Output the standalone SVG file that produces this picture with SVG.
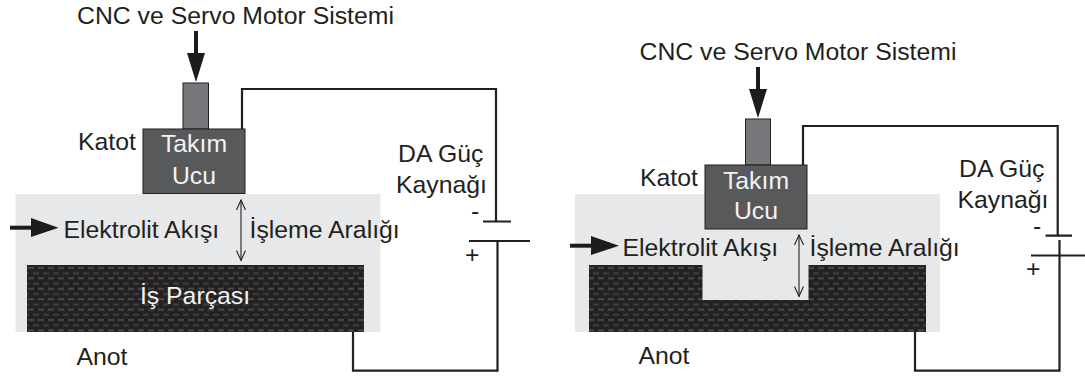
<svg xmlns="http://www.w3.org/2000/svg" width="1085" height="378" viewBox="0 0 1085 378">
<defs>
<pattern id="tex" width="10" height="10.4" patternUnits="userSpaceOnUse" patternTransform="translate(27 265)">
<rect width="10" height="10.4" fill="#232122"/>
<rect x="1" y="2" width="6" height="2" fill="#4a484a"/>
<rect x="6" y="7.2" width="6" height="2" fill="#403e40"/>
<rect x="-4" y="7.2" width="6" height="2" fill="#403e40"/>
</pattern>
<marker id="open" viewBox="0 0 12 10" markerWidth="12" markerHeight="10" refX="11" refY="5" orient="auto-start-reverse" markerUnits="userSpaceOnUse"><path d="M1 .5L11 5L1 9.5" fill="none" stroke="#231f20" stroke-width="1.1"/></marker>
</defs>
<style>
text{font-family:"Liberation Sans",Arial,sans-serif;font-size:24.800px;fill:#231f20}
.w{fill:#f2f2f2;text-anchor:middle}
.wire{fill:none;stroke:#231f20;stroke-width:2.200}
.thin{fill:none;stroke:#231f20;stroke-width:1.1;marker-start:url(#open);marker-end:url(#open)}
.bar{fill:none;stroke:#1d1b1c;stroke-width:4}
.head{fill:#1d1b1c}
.fluid{fill:#e7e8ea}
.work{fill:url(#tex)}
.stem{fill:#77787b;stroke:#231f20;stroke-width:1}
.tool{fill:#58595b;stroke:#231f20;stroke-width:1}
</style>
<g id="left-fluid"><rect class="fluid" x="15.500" y="194" width="365" height="138"/></g>
<g id="left-workpiece"><rect class="work" x="27" y="265" width="337" height="67"/><text class="w" x="195" y="304">İş Parçası</text></g>
<g id="left-tool"><rect class="stem" x="183" y="83" width="25.500" height="46"/><rect class="tool" x="143" y="129" width="102" height="64.500"/><text class="w" x="194" y="152">Takım</text><text class="w" x="194" y="184">Ucu</text></g>
<g id="right-fluid"><rect class="fluid" x="575" y="194" width="365" height="138"/></g>
<g id="right-workpiece"><path class="work" d="M589 265H702.500V300H808.500V265H926V332H589Z"/></g>
<g id="right-tool"><rect class="stem" x="745.500" y="119" width="25" height="46"/><rect class="tool" x="705" y="165" width="102" height="64"/><text class="w" x="756" y="189">Takım</text><text class="w" x="756" y="219">Ucu</text></g>
<g id="connectors">
<path class="wire" d="M242 129V89H496V221.500"/>
<path class="wire" d="M483 221.500H511M469 241H530M497.500 241V370.700H353V332"/>
<path class="bar" d="M196 31V55"/><path class="head" d="M187 53H205L196 82Z"/>
<path class="bar" d="M10 227.700H33"/><path class="head" d="M31 218L58.500 227.700L31 237Z"/>
<path class="thin" d="M241 200V260.500"/>
<path class="wire" d="M803 165V126H1057.700V235.700"/>
<path class="wire" d="M1045.500 235.700H1072M1031 255.500H1085M1059.500 240V370.700H915V332"/>
<path class="bar" d="M758 67V91"/><path class="head" d="M749 89H767L758 118Z"/>
<path class="bar" d="M570 245.700H593"/><path class="head" d="M591 236L619 245.700L591 255Z"/>
<path class="thin" d="M799 235V296.500"/>
</g>
<g id="labels">
<text x="77" y="24">CNC ve Servo Motor Sistemi</text>
<text x="78" y="150">Katot</text>
<text x="398" y="162">DA Güç</text>
<text x="396" y="193">Kaynağı</text>
<text x="471" y="219">-</text>
<text x="465" y="263">+</text>
<text x="63.500" y="238">Elektrolit Akışı</text>
<text x="249.500" y="238">İşleme Aralığı</text>
<text x="76.500" y="365">Anot</text>
<text x="639.500" y="60">CNC ve Servo Motor Sistemi</text>
<text x="640" y="186">Katot</text>
<text x="959" y="177">DA Güç</text>
<text x="957.500" y="208">Kaynağı</text>
<text x="1033" y="234">-</text>
<text x="1026" y="277">+</text>
<text x="622.500" y="256">Elektrolit Akışı</text>
<text x="809.500" y="256">İşleme Aralığı</text>
<text x="638.500" y="364">Anot</text>
</g>
</svg>
